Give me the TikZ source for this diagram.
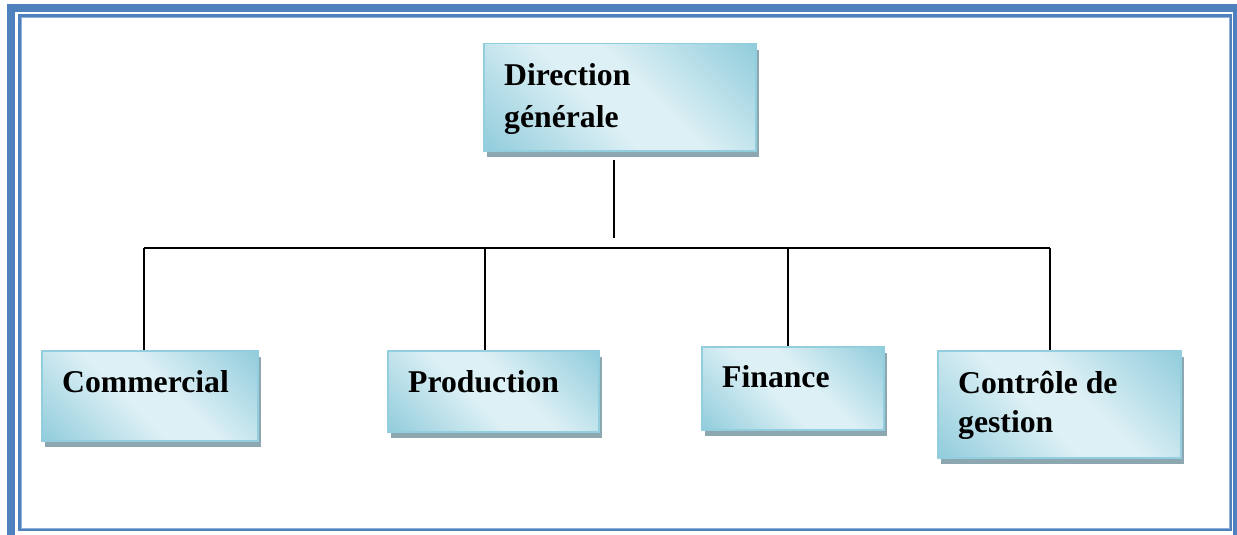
\documentclass[tikz,border=0pt]{standalone}
\usepackage{fontspec}
\setmainfont{Liberation Serif}
\definecolor{framec}{HTML}{4F81BD}
\definecolor{framelt}{HTML}{8FB0DA}
\definecolor{boxdark}{HTML}{92CDDC}
\definecolor{boxlight}{HTML}{DDF0F5}
\definecolor{boxedge}{HTML}{93CEDE}
\definecolor{shadowc}{HTML}{8CA7B0}
\pgfdeclarehorizontalshading{boxshade}{100bp}{color(0bp)=(boxdark); color(15bp)=(boxdark); color(44bp)=(boxlight); color(56bp)=(boxlight); color(85bp)=(boxdark); color(100bp)=(boxdark)}
\tikzset{
  box/.style={anchor=north west, inner sep=0pt, draw=boxedge, line width=1.5pt,
    shading=boxshade, shading angle=45,
    preaction={fill=shadowc, transform canvas={shift={(3pt,-6pt)}}}},
  label/.style={anchor=base west, inner sep=0pt, font=\fontsize{31.7}{40}\selectfont\bfseries},
  link/.style={draw=black, line width=1.6pt}
}
\begin{document}
\begin{tikzpicture}[x=1pt,y=-1pt]
\useasboundingbox (0,0) rectangle (1237,535);
\begin{scope}
\clip (0,0) rectangle (1237,535);
% page frame: heavy outer band and thin inner rule
\draw[framec, line width=8pt] (11,8) rectangle (1237,560);
\draw[framec, line width=2.5pt] (19.3,15.3) rectangle (1230.7,530);
\draw[framelt, line width=0.8pt] (21,17) rectangle (1229,528.6);
\end{scope}

% boxes
\node[box, minimum width=272pt, minimum height=107pt] (dg) at (483,43) {};
\node[box, minimum width=216pt, minimum height=90pt] (com) at (41,350) {};
\node[box, minimum width=211pt, minimum height=81pt] (prod) at (387,350) {};
\node[box, minimum width=182pt, minimum height=83pt] (fin) at (701,346) {};
\node[box, minimum width=243pt, minimum height=107pt] (ctrl) at (937,350) {};

% box texts
\node[label] (dg1) at (504,85) {Direction};
\node[label] (dg2) at (504,127) {générale};
\node[label] (comt) at (62,392) {Commercial};
\node[label] (prodt) at (408,392) {Production};
\node[label] (fint) at (722,387) {Finance};
\node[label] (ctrl1) at (958,393) {Contrôle de};
\node[label] (ctrl2) at (958,432) {gestion};

% tree connectors
\coordinate (stemtop) at (614,160);
\coordinate (stembot) at (614,238);
\coordinate (jC) at (144,248);
\coordinate (jP) at (485,248);
\coordinate (jF) at (788,248);
\coordinate (jG) at (1050,248);
\draw[link] (stemtop) -- (stembot);
\draw[link] (jC) -- (jG);
\draw[link] (jC) -- (jC |- com.north);
\draw[link] (jP) -- (jP |- prod.north);
\draw[link] (jF) -- (jF |- fin.north);
\draw[link] (jG) -- (jG |- ctrl.north);
\end{tikzpicture}
\end{document}
